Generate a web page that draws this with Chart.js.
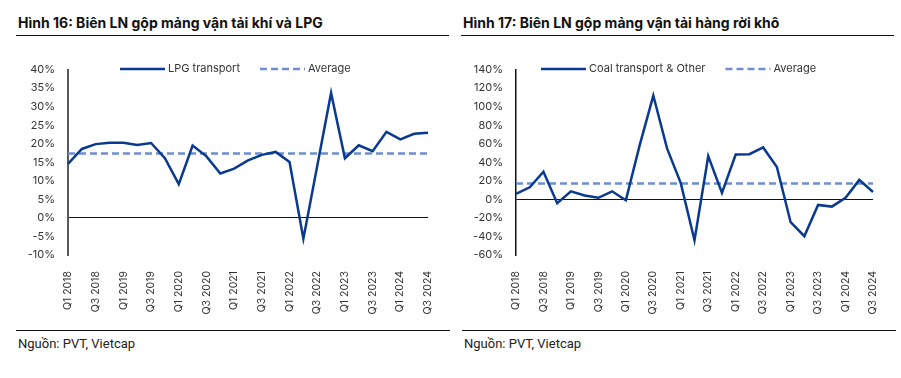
<!DOCTYPE html>
<html>
<head>
<meta charset="utf-8">
<script src="https://cdn.jsdelivr.net/npm/chart.js@4/dist/chart.umd.min.js"></script>
<style>
  body { margin: 0; background: #fff; width: 901px; height: 378px; position: relative; overflow: hidden; }
  .title { position: absolute; top: 14px; font: bold 14px Inter, sans-serif; color: #111; white-space: nowrap; }
  .rule { position: absolute; height: 0; border-top: 1.5px solid #111; }
  .source { position: absolute; top: 336px; font: 13px Roboto, sans-serif; color: #222; }
  .box { position: absolute; top: 50px; height: 270px; }
</style>
</head>
<body>
<div class="title" style="left:18px">Hình 16: Biên LN gộp mảng vận tải khí và LPG</div>
<div class="rule" style="left:16px; width:433px; top:35px"></div>
<div class="title" style="left:463px">Hình 17: Biên LN gộp mảng vận tải hàng rời khô</div>
<div class="rule" style="left:461px; width:433px; top:35px"></div>

<div class="box" style="left:0; width:450px"><canvas id="lpgChart"></canvas></div>
<div class="box" style="left:450px; width:451px"><canvas id="coalChart"></canvas></div>

<div class="rule" style="left:16px; width:434px; top:330px"></div>
<div class="source" style="left:18px">Nguồn: PVT, Vietcap</div>
<div class="rule" style="left:462px; width:434px; top:330px"></div>
<div class="source" style="left:464px">Nguồn: PVT, Vietcap</div>

<script>
'use strict';

const quarters = [
  'Q1 2018', 'Q2 2018', 'Q3 2018', 'Q4 2018',
  'Q1 2019', 'Q2 2019', 'Q3 2019', 'Q4 2019',
  'Q1 2020', 'Q2 2020', 'Q3 2020', 'Q4 2020',
  'Q1 2021', 'Q2 2021', 'Q3 2021', 'Q4 2021',
  'Q1 2022', 'Q2 2022', 'Q3 2022', 'Q4 2022',
  'Q1 2023', 'Q2 2023', 'Q3 2023', 'Q4 2023',
  'Q1 2024', 'Q2 2024', 'Q3 2024'
];

// gross margin, %
const lpgMargin = [14.6, 18.6, 19.9, 20.3, 20.3, 19.7, 20.2, 16.1, 9.1, 19.5, 16.6, 12.0, 13.3, 15.5,
  17.0, 17.8, 15.1, -5.6, 14.0, 33.7, 16.1, 19.6, 18.0, 23.2, 21.2, 22.7, 23.0];
const lpgAverage = 17.4;

const coalMargin = [5.9, 13.0, 29.8, -4.2, 8.7, 4.2, 1.7, 8.7, -1.0, 58.0, 112.0, 55.0, 17.5, -44.0,
  46.6, 7.0, 48.4, 48.7, 56.0, 35.0, -24.6, -39.7, -6.0, -7.8, 1.7, 21.0, 8.0];
const coalAverage = 17.2;

const lpgTicks = {min: -10, max: 40, step: 5};
const coalTicks = {min: -60, max: 140, step: 20};

const navy = '#0a3a90';
const avgBlue = '#6f8ecf';
const tickFont = {family: 'Inter', size: 11};

// legend row drawn inside the plot, like the original
const lineLegend = {
  id: 'lineLegend',
  afterDraw(chart, args, opts) {
    const ctx = chart.ctx;
    let x = opts.x;
    ctx.save();
    ctx.font = '11px Inter';
    ctx.textBaseline = 'middle';
    chart.data.datasets.forEach((ds) => {
      ctx.beginPath();
      ctx.strokeStyle = ds.borderColor;
      ctx.lineWidth = ds.borderWidth;
      ctx.setLineDash(ds.borderDash || []);
      ctx.moveTo(x, opts.y);
      ctx.lineTo(x + 45, opts.y);
      ctx.stroke();
      ctx.setLineDash([]);
      ctx.fillStyle = '#333';
      ctx.fillText(ds.label, x + 48, opts.y);
      x += 48 + ctx.measureText(ds.label).width + 20;
    });
    ctx.restore();
  }
};

function makeChart(id, values, avg, name, ticks, cfg) {
  const ctx = document.getElementById(id).getContext('2d');
  return new Chart(ctx, {
    type: 'line',
    data: {
      labels: quarters,
      datasets: [{
        label: name,
        data: values,
        borderColor: navy,
        backgroundColor: navy,
        borderWidth: 2.5,
        pointRadius: 0,
        tension: 0
      },
      {
        label: 'Average',
        data: quarters.map(() => avg),
        borderColor: avgBlue,
        backgroundColor: avgBlue,
        borderWidth: 2.5,
        borderDash: [7, 4],
        pointRadius: 0
      }]
    },
    options: {
      responsive: true,
      maintainAspectRatio: false,
      animation: false,
      layout: {padding: {top: 15, right: cfg.right, left: 0, bottom: 0}},
      plugins: {
        legend: {display: false},
        tooltip: {enabled: false},
        lineLegend: {x: cfg.legendX, y: 19}
      },
      scales: {
        x: {
          grid: {display: false},
          border: {display: false},
          ticks: {
            autoSkip: false,
            maxRotation: 90,
            minRotation: 90,
            padding: 8,
            color: '#333',
            font: {family: 'Inter', size: 10.5},
            callback: function(val, i) { return i % 2 === 0 ? quarters[i] : ''; }
          },
          afterFit: function(scale) { scale.height = 65; }
        },
        y: {
          min: ticks.min,
          max: ticks.max,
          grid: {
            drawTicks: false,
            color: (c) => c.tick && c.tick.value === 0 ? '#111' : 'rgba(0,0,0,0)',
            lineWidth: 1
          },
          border: {color: cfg.axisColor, width: cfg.axisWidth},
          ticks: {
            stepSize: ticks.step,
            padding: 13,
            color: '#333',
            font: tickFont,
            callback: (v) => v + '%'
          },
          afterFit: function(scale) { scale.width = cfg.left; }
        }
      }
    },
    plugins: [lineLegend]
  });
}

makeChart('lpgChart', lpgMargin, lpgAverage, 'LPG transport', lpgTicks,
  {left: 68, right: 22, legendX: 120, axisColor: '#595959', axisWidth: 2});
makeChart('coalChart', coalMargin, coalAverage, 'Coal transport & Other', coalTicks,
  {left: 66, right: 28, legendX: 91, axisColor: '#111', axisWidth: 1.5});
</script>
</body>
</html>
